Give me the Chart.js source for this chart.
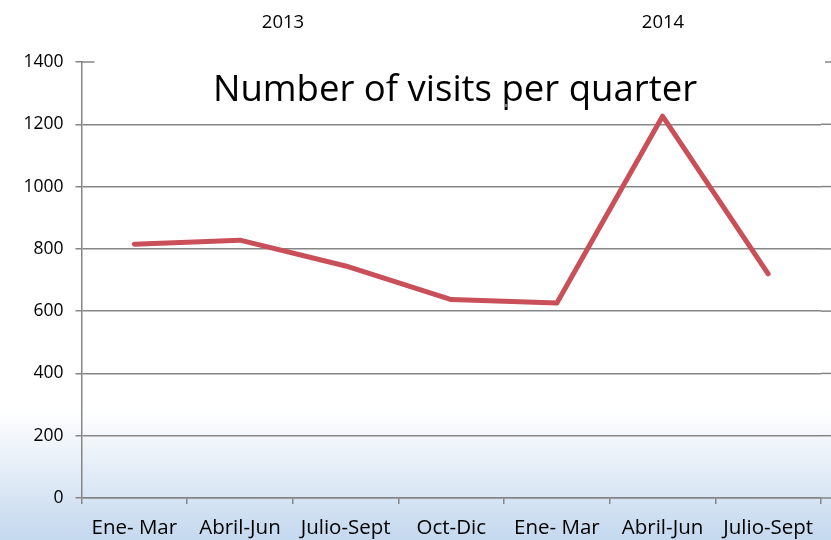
<!DOCTYPE html>
<html>
<head>
<meta charset="utf-8">
<script src="https://cdn.jsdelivr.net/npm/chart.js@4.4.1/dist/chart.umd.min.js"></script>
<style>
    html, body {
        margin: 0;
        padding: 0;
    }
    body {
        width: 831px;
        height: 540px;
        overflow: hidden;
        position: relative;
        background: linear-gradient(to bottom, #ffffff 0px, #ffffff 410px, #c4d8ee 540px);
        font-family: "Open Sans", Lato, sans-serif;
    }
    #chart-wrap {
        position: absolute;
        left: 0;
        top: 0;
        width: 831px;
        height: 540px;
    }
    .label {
        position: absolute;
        color: #000;
        white-space: nowrap;
        line-height: 1;
        transform: translate(-50%, -50%);
    }
    #title {
        left: 455px;
        top: 87px;
        font-size: 36.5px;
    }
    .year {
        font-size: 18.5px;
        top: 21px;
    }
    #dot {
        position: absolute;
        left: 505px;
        top: 104px;
        width: 3px;
        height: 3px;
        background: #7a7a7a;
    }
</style>
</head>
<body>
<div id="chart-wrap"><canvas id="visitsChart" width="831" height="540"></canvas></div>
<div class="label" id="title">Number of visits per quarter</div>
<div class="label year" style="left:283px">2013</div>
<div class="label year" style="left:663px">2014</div>
<div id="dot"></div>

<script>
const quarters = ['Ene- Mar', 'Abril-Jun', 'Julio-Sept', 'Oct-Dic', 'Ene- Mar', 'Abril-Jun', 'Julio-Sept'];
const visits = [815, 828, 745, 637, 626, 1226, 720];
const yTicks = [0, 200, 400, 600, 800, 1000, 1200, 1400];

const axisGray = '#868686';
const fontFamily = '"Open Sans", Lato, sans-serif';

// Excel-style extras: gridlines run to the edge, cross marks at the top value
const edgeLines = {
    id: 'edgeLines',
    beforeDatasetsDraw(chart) {
        const { ctx, chartArea, scales } = chart;
        const y = scales.y;
        const right = chart.width;
        ctx.save();
        ctx.strokeStyle = axisGray;
        ctx.lineWidth = 1.5;
        yTicks.forEach(v => {
            const py = y.getPixelForValue(v);
            ctx.beginPath();
            if (v === yTicks[yTicks.length - 1]) {
                ctx.moveTo(chartArea.left, py);
                ctx.lineTo(chartArea.left + 13, py);
                ctx.moveTo(right - 6, py);
                ctx.lineTo(right, py);
            } else {
                ctx.moveTo(chartArea.right, py);
                ctx.lineTo(right, py);
            }
            ctx.stroke();
        });
        ctx.restore();
    }
};

function initChart() {
    const ctx = document.getElementById('visitsChart');

    new Chart(ctx, {
        type: 'line',
        data: {
            labels: quarters,
            datasets: [{
                label: 'Visits',
                data: visits,
                borderColor: '#c94f58',
                backgroundColor: '#c94f58',
                borderWidth: 5,
                borderJoinStyle: 'round',
                borderCapStyle: 'round',
                pointRadius: 0,
                tension: 0,
                fill: false
            }]
        },
        options: {
            responsive: false,
            animation: false,
            layout: {
                padding: { top: 62, right: 10, left: 0, bottom: 0 }
            },
            plugins: {
                legend: { display: false },
                title: { display: false },
                tooltip: { enabled: false }
            },
            scales: {
                x: {
                    offset: true,
                    grid: {
                        offset: true,
                        drawOnChartArea: false,
                        drawTicks: true,
                        tickLength: 6,
                        tickColor: axisGray,
                        lineWidth: 1.5
                    },
                    border: { color: axisGray, width: 1.5 },
                    ticks: {
                        color: '#000',
                        padding: 12,
                        maxRotation: 0,
                        autoSkip: false,
                        font: { family: fontFamily, size: 20.5 }
                    },
                    afterFit(scale) {
                        scale.height = 42;
                    }
                },
                y: {
                    min: 0,
                    max: 1400,
                    grid: {
                        color: c => c.tick && c.tick.value === 1400 ? 'rgba(0,0,0,0)' : axisGray,
                        tickColor: axisGray,
                        lineWidth: 1.5,
                        tickLength: 6
                    },
                    border: { color: axisGray, width: 1.5 },
                    afterBuildTicks(scale) {
                        scale.ticks = yTicks.map(v => ({ value: v }));
                    },
                    ticks: {
                        color: '#000',
                        padding: 12,
                        callback: value => String(value),
                        font: { family: fontFamily, size: 17.5 }
                    },
                    afterFit(scale) {
                        scale.width = 81.5;
                    }
                }
            }
        },
        plugins: [edgeLines]
    });
}

initChart();
</script>
</body>
</html>
